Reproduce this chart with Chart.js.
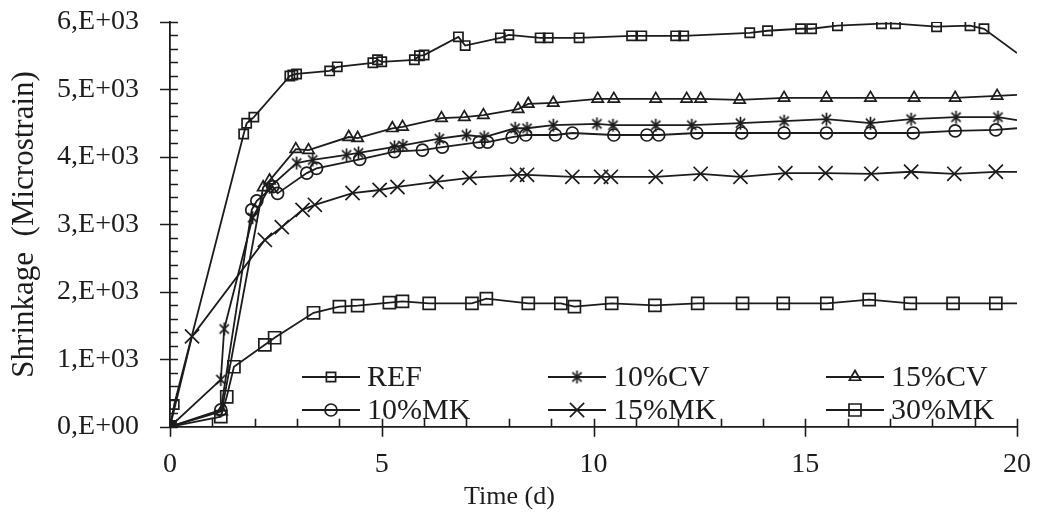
<!DOCTYPE html>
<html>
<head>
<meta charset="utf-8">
<script src="https://cdn.jsdelivr.net/npm/chart.js@4/dist/chart.umd.min.js"></script>
<style>
  body { margin: 0; background: #fff; }
</style>
</head>
<body>
<canvas id="shrinkageChart" width="1040" height="518"></canvas>
<script>
// time (d) and shrinkage (microstrain)
const refT = [0, 0.1, 1.74, 1.81, 1.98, 2.83, 2.9, 2.99, 3.77, 3.95, 4.79, 4.9, 5.0, 5.77, 5.89, 6.0, 6.81, 6.97, 7.8, 8.0, 8.74, 8.93, 9.66, 10.9, 11.14, 11.94, 12.13, 13.69, 14.11, 14.89, 15.15, 15.76, 16.8, 17.13, 18.1, 18.89, 19.22, 20];
const refV = [0, 330, 4340, 4500, 4590, 5200, 5215, 5230, 5275, 5335, 5395, 5440, 5410, 5440, 5500, 5510, 5780, 5650, 5765, 5810, 5765, 5765, 5765, 5795, 5795, 5795, 5795, 5840, 5870, 5900, 5900, 5945, 5975, 5975, 5930, 5945, 5900, 5540];

const cv10T = [0, 1.2, 1.28, 1.95, 2.35, 2.99, 3.37, 4.17, 4.45, 5.3, 5.5, 6.36, 7.0, 7.42, 8.15, 8.43, 9.05, 10.08, 10.46, 11.47, 12.32, 13.47, 14.5, 15.5, 16.54, 17.5, 18.56, 19.55, 20];
const cv10V = [0, 700, 1450, 3100, 3550, 3910, 3955, 4030, 4060, 4150, 4170, 4270, 4325, 4295, 4425, 4425, 4470, 4490, 4470, 4470, 4470, 4500, 4530, 4560, 4500, 4560, 4590, 4590, 4545];

const cv15T = [0, 1.22, 2.2, 2.35, 2.97, 3.27, 4.22, 4.43, 5.25, 5.49, 6.41, 6.95, 7.4, 8.22, 8.46, 9.05, 10.1, 10.48, 11.47, 12.2, 12.53, 13.45, 14.5, 15.5, 16.54, 17.57, 18.54, 19.53, 20];
const cv15V = [0, 230, 3550, 3650, 4115, 4100, 4295, 4280, 4425, 4445, 4575, 4590, 4620, 4710, 4785, 4800, 4860, 4860, 4860, 4860, 4860, 4845, 4875, 4875, 4875, 4875, 4875, 4905, 4920];

const mk10T = [0, 1.2, 1.93, 2.05, 2.43, 2.54, 3.23, 3.46, 4.48, 5.3, 5.96, 6.43, 7.3, 7.5, 8.08, 8.4, 9.1, 9.5, 10.48, 11.26, 11.54, 12.44, 13.5, 14.5, 15.5, 16.54, 17.55, 18.54, 19.5, 20];
const mk10V = [0, 250, 3215, 3350, 3560, 3460, 3760, 3830, 3965, 4080, 4100, 4145, 4220, 4220, 4295, 4325, 4325, 4355, 4325, 4325, 4325, 4355, 4355, 4355, 4355, 4355, 4355, 4385, 4400, 4425];

const mk15T = [0, 0.52, 2.24, 2.64, 3.13, 3.42, 4.31, 4.95, 5.37, 6.29, 7.07, 8.2, 8.43, 9.5, 10.18, 10.41, 11.47, 12.53, 13.47, 14.53, 15.48, 16.56, 17.5, 18.52, 19.5, 20];
const mk15V = [0, 1340, 2770, 2960, 3215, 3290, 3465, 3510, 3555, 3630, 3690, 3735, 3735, 3705, 3705, 3705, 3705, 3750, 3705, 3760, 3760, 3750, 3780, 3750, 3780, 3780];

const mk30T = [0, 1.2, 1.34, 1.51, 2.24, 2.47, 3.39, 4.0, 4.43, 5.18, 5.49, 6.12, 7.13, 7.47, 8.46, 9.23, 9.55, 10.43, 11.45, 12.46, 13.52, 14.48, 15.51, 16.51, 17.48, 18.49, 19.5, 20];
const mk30V = [0, 150, 445, 890, 1215, 1320, 1690, 1780, 1795, 1840, 1860, 1830, 1830, 1900, 1830, 1830, 1780, 1830, 1800, 1830, 1830, 1830, 1830, 1885, 1830, 1830, 1830, 1830];

const seriesNames = ['REF', '10%CV', '15%CV', '10%MK', '15%MK', '30%MK'];
const yTickLabels = ['0,E+00', '1,E+03', '2,E+03', '3,E+03', '4,E+03', '5,E+03', '6,E+03'];

const X_MIN = 0, X_MAX = 20, X_MAJOR = 5, X_MINOR = 1;
const Y_MIN = 0, Y_MAX = 6000, Y_MAJOR = 1000, Y_MINOR = 200;

const INK = '#1c1c1c';
const FONT = "'Liberation Serif', 'Times New Roman', serif";
const TICK_SIZE = 28;

// Excel-like asterisk marker (vertical bar + X)
function makeAsterisk(size) {
    const c = document.createElement('canvas');
    c.width = c.height = size;
    const g = c.getContext('2d');
    const m = size / 2, r = size / 2 - 1, d = r * Math.SQRT1_2;
    g.strokeStyle = INK;
    g.lineWidth = 1.7;
    g.beginPath();
    g.moveTo(m, m - r); g.lineTo(m, m + r);
    g.moveTo(m - d, m - d); g.lineTo(m + d, m + d);
    g.moveTo(m - d, m + d); g.lineTo(m + d, m - d);
    g.stroke();
    return c;
}
const asterisk = makeAsterisk(15);

function pts(ts, vs) {
    return ts.map((t, i) => ({ x: t, y: vs[i] }));
}

function series(label, ts, vs, style, radius) {
    return {
        label: label,
        data: pts(ts, vs),
        borderColor: INK,
        borderWidth: 1.8,
        tension: 0,
        pointStyle: style,
        // the last point only carries the line to the plot edge
        pointRadius: c => (c.raw && c.raw.x >= X_MAX ? 0 : radius),
        pointBorderColor: INK,
        pointBackgroundColor: 'rgba(0,0,0,0)',
        pointBorderWidth: 1.7,
        legendRadius: radius
    };
}

const datasets = [
    series(seriesNames[0], refT, refV, 'rect', 6.5),
    series(seriesNames[1], cv10T, cv10V, asterisk, 7),
    series(seriesNames[2], cv15T, cv15V, 'triangle', 6.5),
    series(seriesNames[3], mk10T, mk10V, 'circle', 6),
    series(seriesNames[4], mk15T, mk15V, 'crossRot', 10),
    series(seriesNames[5], mk30T, mk30V, 'rect', 8.5)
];

// major ticks cross the axis, minor ticks only point inwards
const axisTicks = {
    id: 'axisTicks',
    afterDatasetsDraw(chart) {
        const { ctx, chartArea: a, scales: { x, y } } = chart;
        ctx.save();
        ctx.strokeStyle = INK;
        ctx.lineWidth = 1.6;
        ctx.beginPath();
        for (let t = X_MIN; t <= X_MAX; t += X_MINOR) {
            const px = Math.round(x.getPixelForValue(t)) + 0.5;
            const major = t % X_MAJOR === 0;
            ctx.moveTo(px, a.bottom + (major ? 10 : 0));
            ctx.lineTo(px, a.bottom - 8);
        }
        for (let v = Y_MIN; v <= Y_MAX; v += Y_MINOR) {
            const py = Math.round(y.getPixelForValue(v)) + 0.5;
            const major = v % Y_MAJOR === 0;
            ctx.moveTo(a.left - (major ? 10 : 0), py);
            ctx.lineTo(a.left + 8, py);
        }
        ctx.stroke();
        ctx.restore();
    }
};

// legend laid out in 3 columns x 2 rows inside the plot
const gridLegend = {
    id: 'gridLegend',
    afterDraw(chart) {
        const ctx = chart.ctx;
        const colX = [302, 548, 826];
        const rowY = [377, 410];
        const lineLen = 58;
        ctx.save();
        ctx.font = '30px ' + FONT;
        ctx.textBaseline = 'middle';
        chart.data.datasets.forEach((ds, i) => {
            const x0 = colX[i % 3], yy = rowY[Math.floor(i / 3)];
            ctx.strokeStyle = INK;
            ctx.lineWidth = 1.8;
            ctx.beginPath();
            ctx.moveTo(x0, yy);
            ctx.lineTo(x0 + lineLen, yy);
            ctx.stroke();
            ctx.fillStyle = 'rgba(0,0,0,0)';
            ctx.lineWidth = 1.7;
            Chart.helpers.drawPoint(ctx, {
                pointStyle: ds.pointStyle, radius: ds.legendRadius, rotation: 0, borderWidth: 1.7
            }, x0 + lineLen / 2, yy);
            ctx.fillStyle = INK;
            ctx.fillText(ds.label, x0 + lineLen + 7, yy + 1);
        });
        ctx.restore();
    }
};

new Chart(document.getElementById('shrinkageChart'), {
    type: 'line',
    data: { datasets: datasets },
    options: {
        responsive: false,
        animation: false,
        events: [],
        layout: { padding: { top: 22, right: 21, left: 0, bottom: 0 } },
        plugins: {
            legend: { display: false },
            tooltip: { enabled: false },
            title: {
                display: true,
                position: 'bottom',
                text: 'Time (d)',
                color: INK,
                font: { family: FONT, size: 26, weight: 'normal', lineHeight: 1.2 },
                padding: { top: 0, bottom: 5 }
            }
        },
        scales: {
            x: {
                type: 'linear',
                min: X_MIN,
                max: X_MAX,
                grid: { display: false, tickLength: 12 },
                border: { display: true, color: INK, width: 1.8 },
                ticks: {
                    stepSize: X_MAJOR,
                    color: INK,
                    padding: 9,
                    maxRotation: 0,
                    font: { family: FONT, size: TICK_SIZE }
                },
                afterFit: s => { s.height = 55; }
            },
            y: {
                type: 'linear',
                min: Y_MIN,
                max: Y_MAX,
                // label offset comes from the tick length, tick padding would also pad the top
                grid: { display: false, tickLength: 31 },
                border: { display: true, color: INK, width: 1.8 },
                ticks: {
                    stepSize: Y_MAJOR,
                    color: INK,
                    padding: 0,
                    font: { family: FONT, size: TICK_SIZE },
                    callback: (v) => yTickLabels[Math.round(v / Y_MAJOR)]
                },
                title: {
                    display: true,
                    text: 'Shrinkage  (Microstrain)',
                    color: INK,
                    font: { family: FONT, size: 31, lineHeight: 1.2 },
                    padding: { top: 6, bottom: 0 }
                },
                afterFit: s => { s.width = 170; }
            }
        }
    },
    plugins: [axisTicks, gridLegend]
});
</script>
</body>
</html>
